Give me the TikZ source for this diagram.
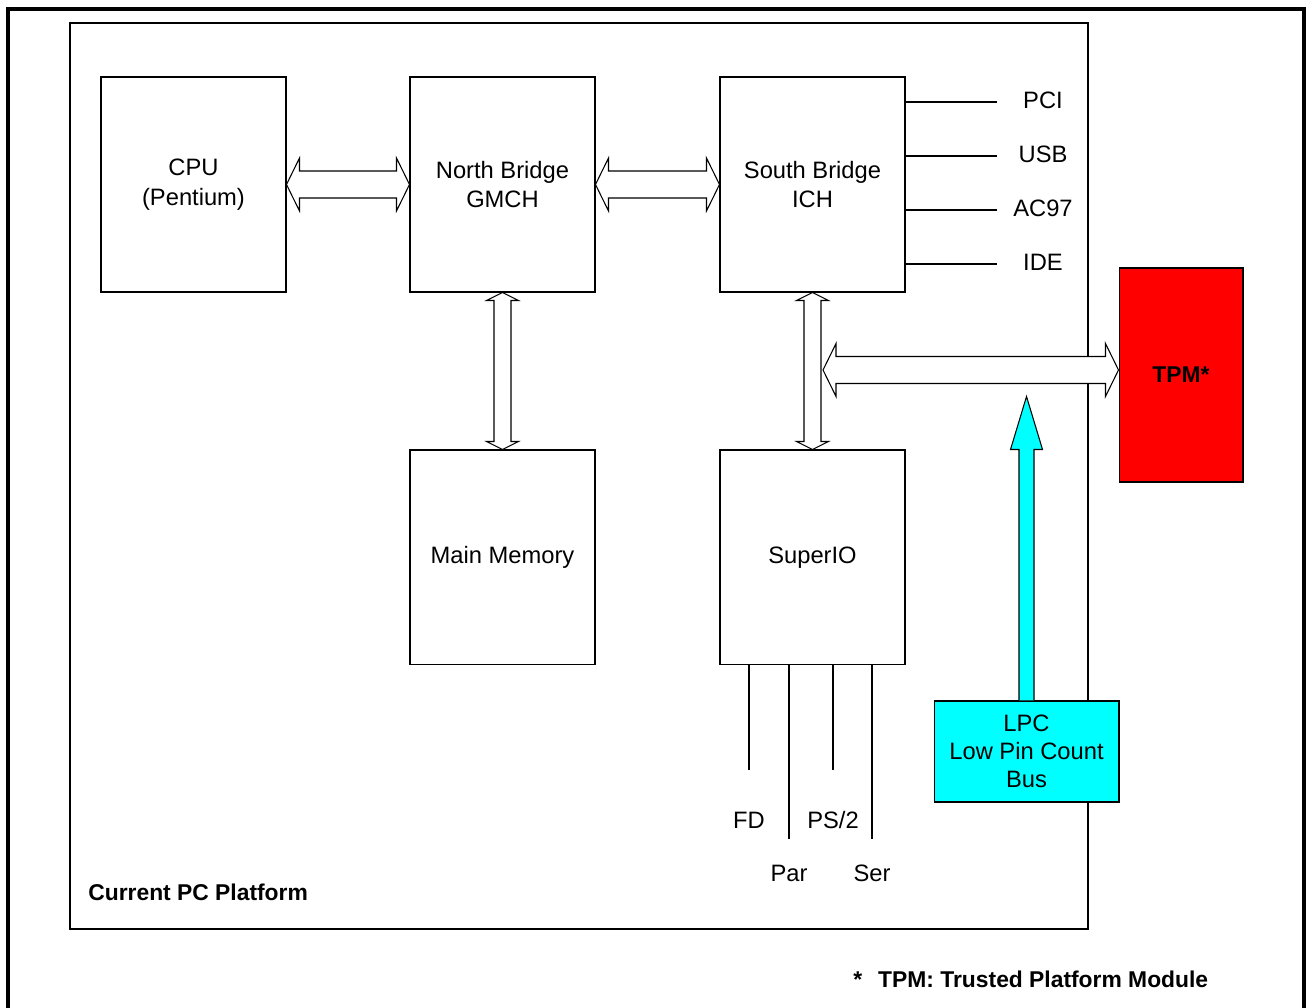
\documentclass[tikz,border=0pt]{standalone}
\usepackage{fontspec}
\setmainfont{Liberation Sans}
\usetikzlibrary{positioning,calc}
\definecolor{tpmred}{HTML}{FF0000}
\definecolor{lpccyan}{HTML}{00FFFF}

% hollow two-headed bus arrows, left-to-right and top-to-bottom
\newcommand{\hbus}[2]{\draw[bus] (#1) -- ($(#1)+(13,26.5)$) -- ($(#1)+(13,13.5)$) -- ($(#2)+(-13,13.5)$) -- ($(#2)+(-13,26.5)$) -- (#2)
  -- ($(#2)+(-13,-26.5)$) -- ($(#2)+(-13,-13.5)$) -- ($(#1)+(13,-13.5)$) -- ($(#1)+(13,-26.5)$) -- cycle;}
\newcommand{\vbus}[2]{\draw[bus] (#1) -- ($(#1)+(16,8)$) -- ($(#1)+(8.5,8)$) -- ($(#2)+(8.5,-8)$) -- ($(#2)+(16,-8)$) -- (#2)
  -- ($(#2)+(-16,-8)$) -- ($(#2)+(-8.5,-8)$) -- ($(#1)+(-8.5,8)$) -- ($(#1)+(-16,8)$) -- cycle;}

\begin{document}
\begin{tikzpicture}[x=0.02cm, y=-0.02cm,
    lbl/.style={font=\fontsize{13.5}{17}\selectfont, align=center},
    bold/.style={font=\fontsize{13}{17}\selectfont\bfseries},
    blk/.style={draw, line width=0.6pt, minimum width=3.7cm, minimum height=4.3cm, inner sep=0pt, lbl},
    bus/.style={draw, fill=white, line width=0.6pt, line join=miter},
    pin/.style={line width=1.6pt}]
    \useasboundingbox (0,0) rectangle (1307,1007);
    \draw[line width=2.3pt] (8,9) rectangle (1304,1015);
    \draw[line width=0.6pt] (70,23) rectangle (1088,929);
    \node[bold, inner sep=0pt, anchor=base west] (plat) at (88,900) {Current PC Platform};
    % chipset
    \node[blk] (cpu) at (193.5,184.5) {CPU\\(Pentium)};
    \node[blk, right=2.46cm of cpu] (nb) {North Bridge\\GMCH};
    \node[blk, right=2.48cm of nb] (sb) {South Bridge\\ICH};
    \node[blk, below=3.14cm of nb] (mem) {Main Memory};
    \node[blk, below=3.14cm of sb] (sio) {SuperIO};
    \hbus{cpu.east}{nb.west}
    \hbus{nb.east}{sb.west}
    \vbus{nb.south}{mem.north}
    \vbus{sb.south}{sio.north}
    % south bridge ports
    \foreach \lab [count=\i] in {PCI,USB,AC97,IDE}{
      \coordinate (p\i) at (997,{48+54*\i});
      \draw[pin] (sb.east |- p\i) -- (p\i);
      \node[lbl] (l\i) at (1043,{46+54*\i}) {\lab};}
    % superIO legs
    \foreach \x/\yend/\lab/\ytxt [count=\i] in {749/770/FD/828, 789/839/Par/881, 833/770/{PS/2}/828, 872/839/Ser/881}{
      \coordinate (leg\i) at (\x,\yend);
      \draw[pin] (sio.south -| leg\i) -- (leg\i);
      \node[lbl, anchor=base] (s\i) at (\x,\ytxt) {\lab};}
    % TPM and LPC
    \node[draw, fill=tpmred, line width=0.6pt, minimum width=2.48cm, minimum height=4.28cm, bold] (tpm) at (1181,375) {TPM*};
    \coordinate (lpcl) at (823,370);
    \coordinate (tpmin) at (lpcl -| tpm.west);
    \hbus{lpcl}{tpmin}
    \node[draw, fill=lpccyan, line width=0.6pt, minimum width=3.7cm, minimum height=2.02cm, inner sep=0pt, lbl,
      font=\fontsize{13.5}{16}\selectfont] (lpc) at (1026.5,751.5) {LPC\\Low Pin Count\\Bus};
    \coordinate (lpctip) at ($(lpc.north)+(0,-304)$);
    \draw[fill=lpccyan, line width=0.6pt, line join=miter] ($(lpc.north)+(-7.5,0)$) -- ($(lpctip)+(-7.5,53)$) -- ($(lpctip)+(-16,53)$) -- (lpctip)
      -- ($(lpctip)+(16,53)$) -- ($(lpctip)+(7.5,53)$) -- ($(lpc.north)+(7.5,0)$);
    \node[bold, inner sep=0pt, anchor=base west] (note) at (853,987) {*\hspace{0.7em}TPM: Trusted Platform Module};
\end{tikzpicture}
\end{document}
